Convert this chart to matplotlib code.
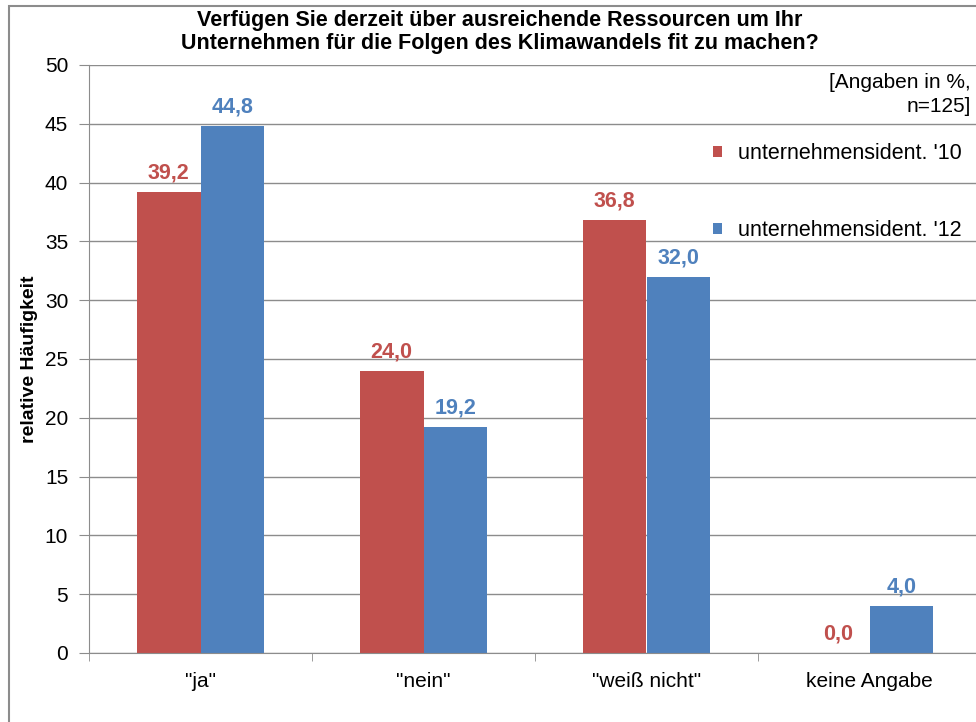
import matplotlib.pyplot as plt
import numpy as np
from matplotlib.patches import Rectangle

# survey answers and shares per wave
categories = ['"ja"', '"nein"', '"weiß nicht"', 'keine Angabe']
werte_2010 = [39.2, 24.0, 36.8, 0.0]
werte_2012 = [44.8, 19.2, 32.0, 4.0]
serien = ["unternehmensident. '10", "unternehmensident. '12"]
farben = ['#C0504D', '#4F81BD']

plt.rcParams['font.family'] = ['Liberation Sans', 'DejaVu Sans']

fig = plt.figure(figsize=(9.76, 7.22), dpi=100)

# outer chart frame, cut at the right and bottom edge
fig.patches.append(Rectangle((9/976, -0.1), 1.2, 1 - 6/722 + 0.1,
                             transform=fig.transFigure, fill=False,
                             edgecolor='#8c8c8c', linewidth=1.5))

ax = fig.add_axes([89/976, 1 - 653/722, 892/976, (653 - 65)/722])

x = np.arange(len(categories))
bw = 0.285
b1 = ax.bar(x - bw/2, werte_2010, bw, color=farben[0], label=serien[0], zorder=2)
b2 = ax.bar(x + bw/2, werte_2012, bw, color=farben[1], label=serien[1], zorder=2)

for bars, vals, c in [(b1, werte_2010, farben[0]), (b2, werte_2012, farben[1])]:
    for r, v in zip(bars, vals):
        ax.annotate(f'{v:.1f}'.replace('.', ','),
                    (r.get_x() + r.get_width()/2, v),
                    xytext=(0, 6), textcoords='offset points',
                    ha='center', va='bottom', color=c,
                    fontsize=15.5, fontweight='bold')

ax.set_xlim(-0.5, len(categories) - 0.5)
ax.set_ylim(0, 50)
ax.set_yticks(range(0, 51, 5))
ax.set_xticks(x)
ax.set_xticklabels(categories, fontsize=15)
ax.set_xticks(np.arange(-0.5, len(categories), 1), minor=True)
ax.tick_params(axis='x', which='major', length=0, pad=14)
ax.tick_params(axis='x', which='minor', length=6, color='#8c8c8c', direction='out')
ax.tick_params(axis='y', labelsize=15, length=7, color='#8c8c8c', pad=8)

ax.grid(axis='y', color='#8c8c8c', linewidth=1, zorder=0)
ax.set_axisbelow(True)
for s in ['top', 'right']:
    ax.spines[s].set_visible(False)
for s in ['left', 'bottom']:
    ax.spines[s].set_color('#8c8c8c')

ax.set_ylabel('relative Häufigkeit', fontsize=14, fontweight='bold')
ax.yaxis.set_label_coords((38 - 89)/892, 0.5)

fig.text(500/976, 1 - 32/722,
         'Verfügen Sie derzeit über ausreichende Ressourcen um Ihr\n'
         'Unternehmen für die Folgen des Klimawandels fit zu machen?',
         ha='center', va='center', fontsize=15.5, fontweight='bold',
         linespacing=1.15)

fig.text(971/976, 1 - 82/722, '[Angaben in %,', ha='right', va='center', fontsize=15)
fig.text(971/976, 1 - 106/722, 'n=125]', ha='right', va='center', fontsize=15)

leg = ax.legend(loc='upper left', bbox_to_anchor=(694/976, 1 - 124/722),
                bbox_transform=fig.transFigure, frameon=False, fontsize=15.5,
                handlelength=0.4, handleheight=0.4, handletextpad=0.75,
                labelspacing=2.6)

fig.savefig('out.png', dpi=100)
